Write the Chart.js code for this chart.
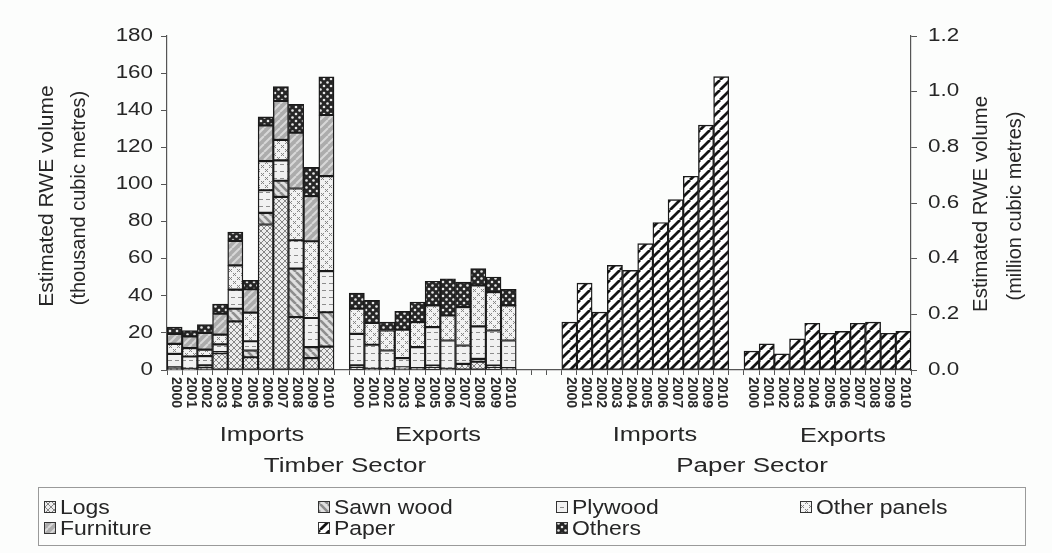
<!DOCTYPE html>
<html>
<head>
<meta charset="utf-8">
<script src="https://cdn.jsdelivr.net/npm/chart.js@4.4.1/dist/chart.umd.min.js"></script>
<style>
html, body { margin: 0; padding: 0; background: #fcfdfc; }
canvas { display: block; }
</style>
</head>
<body>
<canvas id="rweChart" width="1052" height="553"></canvas>
<script>
// ---- data ----
var years = ["2000", "2001", "2002", "2003", "2004", "2005", "2006", "2007", "2008", "2009", "2010"];

// Timber sector, thousand m3 RWE
var impLogs      = [0.7, 0.3, 1.0, 9.0, 26.2, 6.9, 78.4, 93.3, 28.5, 6.4, 12.6];
var impSawn      = [0.8, 0.3, 1.5, 0.6, 6.8, 3.6, 6.3, 8.7, 26.1, 5.9, 18.5];
var impPlywood   = [7.2, 6.7, 5.0, 4.2, 10.3, 5.0, 12.2, 11.0, 15.3, 15.7, 22.2];
var impPanels    = [5.4, 4.5, 3.5, 5.3, 13.1, 15.4, 15.7, 11.0, 27.9, 41.4, 51.2];
var impFurniture = [5.4, 6.3, 9.0, 11.2, 13.2, 12.6, 19.2, 21.0, 30.1, 24.3, 32.9];
var impOthers    = [3.6, 3.1, 4.5, 5.2, 4.7, 4.8, 4.6, 7.7, 15.3, 15.5, 20.6];

var expLogs      = [1.5, 0.6, 0.5, 1.0, 1.0, 1.2, 0.6, 3.3, 4.5, 1.5, 1.0];
var expSawn      = [1.0, 0, 0, 0.5, 0, 1.2, 0, 0, 1.5, 0.9, 0];
var expPlywood   = [17.0, 13.0, 10.0, 4.9, 11.3, 20.7, 15.3, 9.9, 17.5, 18.9, 14.9];
var expPanels    = [13.5, 11.7, 10.8, 15.3, 13.5, 11.7, 13.5, 20.7, 22.1, 20.7, 18.9];
var expFurniture = [0, 0, 0, 0, 0, 0, 0, 0, 0, 0, 0];
var expOthers    = [8.5, 12.2, 4.5, 9.9, 10.8, 13.0, 19.8, 13.5, 9.0, 8.1, 8.7];

// Paper sector, million m3 RWE
var paperImports = [0.172, 0.312, 0.208, 0.376, 0.358, 0.454, 0.530, 0.612, 0.696, 0.880, 1.054];
var paperExports = [0.068, 0.094, 0.058, 0.112, 0.168, 0.132, 0.139, 0.168, 0.172, 0.132, 0.139];

var leftTicks = [0, 20, 40, 60, 80, 100, 120, 140, 160, 180];
var rightTicks = ["0.0", "0.2", "0.4", "0.6", "0.8", "1.0", "1.2"];

// ---- helpers ----
function blanks(n, v) { var a = []; for (var i = 0; i < n; i++) a.push(v); return a; }

// slots: timber imports | gap | timber exports | 3 gaps | paper imports | gap | paper exports
var slotLabels = years.concat(blanks(1, ""), years, blanks(3, ""), years, blanks(1, ""), years);

function timberSeries(imp, exp) {
    return imp.concat([null], exp, blanks(3 + 11 + 1 + 11, null));
}
function paperSeries() {
    return blanks(11 + 1 + 11 + 3, null).concat(paperImports, [null], paperExports);
}

function makePattern(size, bg, paint) {
    var c = document.createElement("canvas");
    c.width = size; c.height = size;
    var g = c.getContext("2d");
    g.fillStyle = bg;
    g.fillRect(0, 0, size, size);
    paint(g, size);
    return g.createPattern(c, "repeat");
}

var patLogs = makePattern(6, "#ededed", function (g, s) {
    g.strokeStyle = "#7a7a7a"; g.lineWidth = 0.9;
    g.beginPath(); g.moveTo(0, 0); g.lineTo(s, s); g.moveTo(0, s); g.lineTo(s, 0); g.stroke();
});
var patSawn = makePattern(8, "#e0e0e0", function (g, s) {
    g.strokeStyle = "#8e8e8e"; g.lineWidth = 2.6;
    g.beginPath();
    for (var x = -s; x <= s; x += s) { g.moveTo(x, 0); g.lineTo(x + s, s); }
    g.stroke();
});
var patPlywood = makePattern(7, "#f1f1f1", function (g, s) {
    g.fillStyle = "#8c8c8c";
    g.fillRect(0, 3, 4, 1);
});
var patPanels = makePattern(8, "#f2f2f2", function (g, s) {
    g.fillStyle = "#858585";
    [[1, 1], [3, 1], [2, 2], [1, 3], [3, 3], [5, 5], [7, 5], [6, 6], [5, 7], [7, 7]].forEach(function (p) {
        g.fillRect(p[0], p[1], 1, 1);
    });
});
var patFurniture = makePattern(8, "#acacac", function (g, s) {
    g.strokeStyle = "#d8d8d8"; g.lineWidth = 2;
    g.beginPath();
    for (var x = -s; x <= s; x += s) { g.moveTo(x, s); g.lineTo(x + s, 0); }
    g.stroke();
});
var patPaper = makePattern(10, "#ffffff", function (g, s) {
    g.strokeStyle = "#141414"; g.lineWidth = 2.8;
    g.beginPath();
    for (var x = -s; x <= s; x += s) { g.moveTo(x, s); g.lineTo(x + s, 0); }
    g.stroke();
});
var patOthers = makePattern(7, "#262626", function (g, s) {
    g.fillStyle = "#e6e6e6";
    g.beginPath(); g.arc(2, 2, 1.3, 0, Math.PI * 2); g.fill();
    g.beginPath(); g.arc(5.5, 5.5, 1.3, 0, Math.PI * 2); g.fill();
});

function barSet(label, data, pattern, axis) {
    return {
        label: label,
        data: data,
        backgroundColor: pattern,
        borderColor: "#1a1a1a",
        borderWidth: 1.4,
        borderSkipped: false,
        stack: "all",
        yAxisID: axis,
        barPercentage: 1,
        categoryPercentage: 1
    };
}

var datasets = [
    barSet("Logs", timberSeries(impLogs, expLogs), patLogs, "y"),
    barSet("Sawn wood", timberSeries(impSawn, expSawn), patSawn, "y"),
    barSet("Plywood", timberSeries(impPlywood, expPlywood), patPlywood, "y"),
    barSet("Other panels", timberSeries(impPanels, expPanels), patPanels, "y"),
    barSet("Furniture", timberSeries(impFurniture, expFurniture), patFurniture, "y"),
    barSet("Others", timberSeries(impOthers, expOthers), patOthers, "y"),
    barSet("Paper", paperSeries(), patPaper, "y1")
];

var FONT = "'Liberation Sans', Arial, sans-serif";
function drawText(ctx, str, x, y, size, o) {
    o = o || {};
    ctx.save();
    ctx.translate(x, y);
    if (o.sx) ctx.scale(o.sx, 1);
    if (o.rot) ctx.rotate(o.rot);
    ctx.font = (o.weight ? o.weight + " " : "") + size + "px " + FONT;
    ctx.fillStyle = o.color || "#262626";
    ctx.textAlign = o.align || "center";
    ctx.textBaseline = o.baseline || "middle";
    ctx.fillText(str, 0, 0);
    ctx.restore();
}

var textPlugin = {
    id: "rweText",
    afterDraw: function (chart) {
        var ctx = chart.ctx;
        var xs = chart.scales.x, ys = chart.scales.y, y1 = chart.scales.y1;

        // y tick labels
        leftTicks.forEach(function (v) {
            drawText(ctx, String(v), ys.right - 14, ys.getPixelForValue(v), 17.5, { sx: 1.28, align: "right" });
        });
        rightTicks.forEach(function (t) {
            drawText(ctx, t, y1.left + 17, y1.getPixelForValue(parseFloat(t)), 17.5, { sx: 1.28, align: "left" });
        });

        // rotated year labels (read top to bottom)
        slotLabels.forEach(function (lab, i) {
            if (!lab) return;
            drawText(ctx, lab, xs.getPixelForValue(i) + 1, xs.top + 7, 14, { rot: Math.PI / 2, align: "left", weight: "bold", color: "#2a2a2a" });
        });

        // group labels
        drawText(ctx, "Imports", 262, 436, 19.5, { sx: 1.3 });
        drawText(ctx, "Exports", 438, 436, 19.5, { sx: 1.3 });
        drawText(ctx, "Timber Sector", 345, 466, 20, { sx: 1.3 });
        drawText(ctx, "Imports", 655, 436, 19.5, { sx: 1.3 });
        drawText(ctx, "Exports", 843, 437, 19.5, { sx: 1.3 });
        drawText(ctx, "Paper Sector", 752, 466, 20, { sx: 1.3 });

        // axis titles
        drawText(ctx, "Estimated RWE volume", 47, 196, 21, { rot: -Math.PI / 2 });
        drawText(ctx, "(thousand cubic metres)", 79, 198, 20, { rot: -Math.PI / 2 });
        drawText(ctx, "Estimated RWE volume", 981, 204, 20.5, { rot: -Math.PI / 2 });
        drawText(ctx, "(million cubic metres)", 1015, 206, 20, { rot: -Math.PI / 2 });

        // legend
        ctx.save();
        ctx.strokeStyle = "#9a9a9a";
        ctx.lineWidth = 1;
        ctx.strokeRect(38.5, 487.5, 987, 58);
        ctx.restore();
        var cols = [44, 318, 556, 800];
        var items = [
            [0, 0, 0], [1, 1, 0], [2, 2, 0], [3, 3, 0],
            [4, 0, 1], [6, 1, 1], [5, 2, 1]
        ];
        items.forEach(function (it) {
            var ds = datasets[it[0]];
            var x = cols[it[1]], y = it[2] === 0 ? 507 : 528;
            ctx.save();
            ctx.fillStyle = ds.backgroundColor;
            ctx.fillRect(x, y - 6, 12, 12);
            ctx.strokeStyle = "#333";
            ctx.lineWidth = 1;
            ctx.strokeRect(x + 0.5, y - 5.5, 11, 11);
            ctx.restore();
            drawText(ctx, ds.label, x + 16, y + 1, 20.5, { sx: 1.12, align: "left" });
        });
    }
};

var rweChart = new Chart(document.getElementById("rweChart").getContext("2d"), {
    type: "bar",
    data: { labels: slotLabels, datasets: datasets },
    options: {
        responsive: false,
        animation: false,
        layout: { padding: { top: 36, left: 0, right: 0, bottom: 0 } },
        plugins: { legend: { display: false }, tooltip: { enabled: false } },
        scales: {
            x: {
                stacked: true,
                offset: true,
                ticks: { display: false },
                grid: { offset: true, drawOnChartArea: false, tickLength: 5, color: "#555", lineWidth: 1 },
                border: { color: "#555", width: 1.2 },
                afterFit: function (s) { s.height = 183; }
            },
            y: {
                position: "left",
                stacked: true,
                min: 0, max: 180,
                ticks: { stepSize: 20, display: false },
                grid: { drawOnChartArea: false, tickLength: 6, color: "#555" },
                border: { color: "#555", width: 1.2 },
                afterFit: function (s) { s.width = 167; }
            },
            y1: {
                position: "right",
                stacked: true,
                min: 0, max: 1.2,
                ticks: { stepSize: 0.2, display: false },
                grid: { drawOnChartArea: false, tickLength: 6, color: "#555" },
                border: { color: "#555", width: 1.2 },
                afterFit: function (s) { s.width = 141; }
            }
        }
    },
    plugins: [textPlugin]
});
</script>
</body>
</html>
